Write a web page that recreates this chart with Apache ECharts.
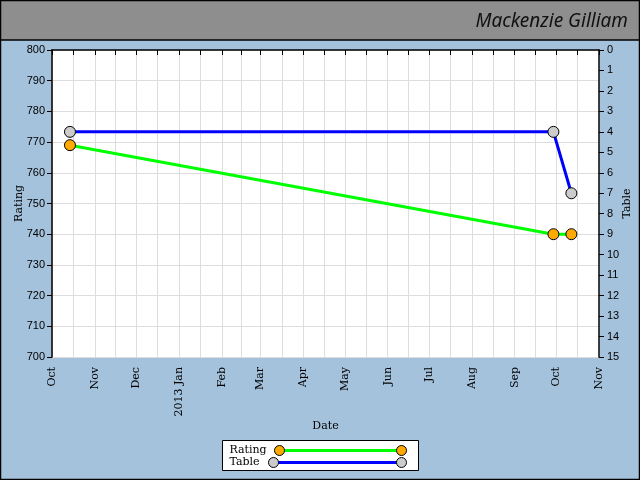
<!DOCTYPE html>
<html>
<head>
<meta charset="utf-8">
<script src="https://cdn.jsdelivr.net/npm/echarts@6/dist/echarts.min.js"></script>
<style>
  html, body { margin: 0; padding: 0; }
  #main { width: 640px; height: 480px; }
</style>
</head>
<body>
<div id="main"></div>
<script>
var dates = ['2012-10-14', '2013-09-29', '2013-10-12'];
var rating = [769, 740, 740];
var table = [4, 4, 7];
var monthLabels = ['Jan', 'Feb', 'Mar', 'Apr', 'May', 'Jun', 'Jul', 'Aug', 'Sep', 'Oct', 'Nov', 'Dec'];
var playerName = 'Mackenzie Gilliam';

var chart = echarts.init(document.getElementById('main'));

var serif = 'DejaVu Serif';
var sans = 'Liberation Sans';

function pairs(vals) {
  var out = [];
  for (var i = 0; i < dates.length; i++) {
    out.push([dates[i], vals[i]]);
  }
  return out;
}

var option = {
  backgroundColor: '#a4c2dc',
  animation: false,
  grid: {
    left: 52,
    right: 41,
    top: 50,
    bottom: 123,
    outerBoundsMode: 'none',
    containLabel: false,
    show: true,
    backgroundColor: '#ffffff',
    borderWidth: 0
  },
  xAxis: {
    type: 'time',
    min: +new Date(2012, 9, 1),
    max: +new Date(2013, 10, 1),
    splitNumber: 13,
    name: 'Date',
    nameLocation: 'middle',
    nameMoveOverlap: false,
    nameGap: 64,
    nameTextStyle: { fontFamily: serif, fontSize: 11, color: '#000' },
    axisLine: { lineStyle: { color: '#000', width: 1.5 } },
    axisTick: { show: true, length: 5, lineStyle: { color: '#000' } },
    minorTick: { show: true, splitNumber: 2, length: 5, lineStyle: { color: '#000' } },
    splitLine: { show: true, lineStyle: { color: '#dddddd', width: 1 } },
    minorSplitLine: { show: true, lineStyle: { color: '#dddddd', width: 1 } },
    axisLabel: {
      rotate: 90,
      margin: 10,
      fontFamily: serif,
      fontSize: 11,
      color: '#000',
      showMinLabel: true,
      showMaxLabel: true,
      formatter: function (val) {
        var d = new Date(val);
        var m = d.getMonth();
        return m === 0 ? d.getFullYear() + ' ' + monthLabels[m] : monthLabels[m];
      }
    }
  },
  yAxis: [
    {
      type: 'value',
      min: 700,
      max: 800,
      interval: 10,
      position: 'left',
      name: 'Rating',
      nameLocation: 'middle',
      nameRotate: 90,
      nameMoveOverlap: false,
      nameGap: 27,
      nameTextStyle: { fontFamily: serif, fontSize: 11, color: '#000' },
      axisLine: { show: true, lineStyle: { color: '#000', width: 1.5 } },
      axisTick: { show: true, length: 5, lineStyle: { color: '#000' } },
      splitLine: { show: true, lineStyle: { color: '#dddddd', width: 1 } },
      axisLabel: { fontFamily: sans, fontSize: 11, color: '#000', margin: 7 }
    },
    {
      type: 'value',
      min: 0,
      max: 15,
      interval: 1,
      inverse: true,
      position: 'right',
      name: 'Table',
      nameLocation: 'middle',
      nameRotate: 90,
      nameMoveOverlap: false,
      nameGap: 23,
      nameTextStyle: { fontFamily: serif, fontSize: 11, color: '#000' },
      axisLine: { show: true, lineStyle: { color: '#000', width: 1.5 } },
      axisTick: { show: true, length: 5, lineStyle: { color: '#000' } },
      splitLine: { show: false },
      axisLabel: { fontFamily: sans, fontSize: 11, color: '#000', margin: 8 }
    }
  ],
  series: [
    {
      name: 'Rating',
      type: 'line',
      yAxisIndex: 0,
      data: pairs(rating),
      symbol: 'circle',
      symbolSize: 11,
      lineStyle: { color: '#00ff00', width: 3 },
      itemStyle: { color: '#ffaa00', borderColor: '#000', borderWidth: 1 },
      z: 3
    },
    {
      name: 'Table',
      type: 'line',
      yAxisIndex: 1,
      data: pairs(table),
      symbol: 'circle',
      symbolSize: 11,
      lineStyle: { color: '#0000ff', width: 3 },
      itemStyle: { color: '#cccccc', borderColor: '#000', borderWidth: 1 },
      z: 3
    }
  ],
  graphic: [
    // header band
    {
      type: 'rect',
      shape: { x: 0, y: 0, width: 640, height: 40 },
      style: { fill: '#8e8e8e', stroke: '#000', lineWidth: 1.5 },
      z: 10
    },
    {
      type: 'text',
      right: 12,
      top: 12,
      style: {
        text: playerName,
        fontFamily: 'Noto Sans',
        fontStyle: 'italic',
        fontSize: 19,
        fill: '#111'
      },
      z: 11
    },
    // outer frame
    {
      type: 'rect',
      shape: { x: 0.5, y: 0.5, width: 639, height: 479 },
      style: { fill: 'none', stroke: '#000', lineWidth: 1.5 },
      z: 12
    },
    // legend box
    {
      type: 'group',
      left: 222,
      top: 440,
      z: 10,
      children: [
        {
          type: 'rect',
          shape: { x: 0, y: 0, width: 196, height: 30 },
          style: { fill: '#fff', stroke: '#000', lineWidth: 1 }
        },
        {
          type: 'text',
          x: 7, y: 4,
          style: { text: 'Rating', fontFamily: serif, fontSize: 11, fill: '#000' }
        },
        {
          type: 'text',
          x: 7, y: 16,
          style: { text: 'Table', fontFamily: serif, fontSize: 11, fill: '#000' }
        },
        {
          type: 'line',
          shape: { x1: 57, y1: 10, x2: 179, y2: 10 },
          style: { stroke: '#00ff00', lineWidth: 3 }
        },
        {
          type: 'line',
          shape: { x1: 51, y1: 22, x2: 179, y2: 22 },
          style: { stroke: '#0000ff', lineWidth: 3 }
        },
        { type: 'circle', shape: { cx: 57, cy: 10, r: 5 }, style: { fill: '#ffaa00', stroke: '#000', lineWidth: 1 } },
        { type: 'circle', shape: { cx: 179, cy: 10, r: 5 }, style: { fill: '#ffaa00', stroke: '#000', lineWidth: 1 } },
        { type: 'circle', shape: { cx: 51, cy: 22, r: 5 }, style: { fill: '#cccccc', stroke: '#000', lineWidth: 1 } },
        { type: 'circle', shape: { cx: 179, cy: 22, r: 5 }, style: { fill: '#cccccc', stroke: '#000', lineWidth: 1 } }
      ]
    }
  ]
};

chart.setOption(option);
</script>
</body>
</html>
